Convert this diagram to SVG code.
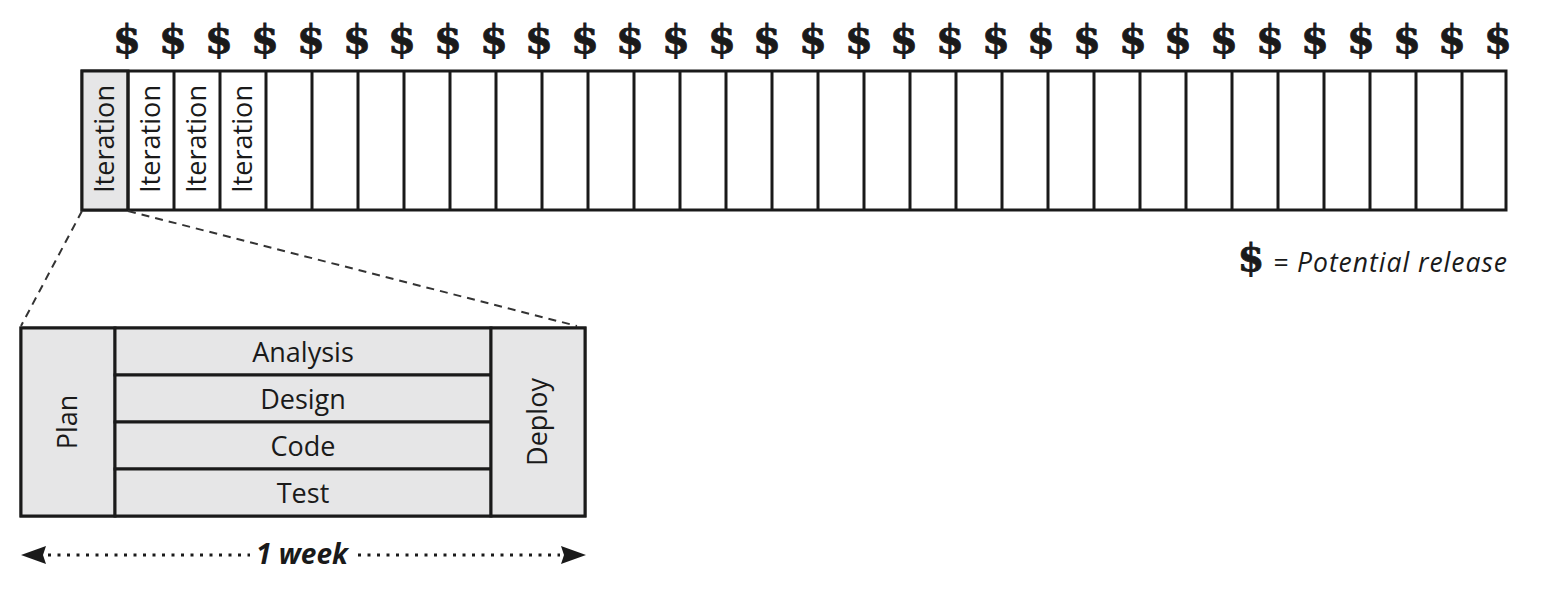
<svg xmlns="http://www.w3.org/2000/svg" width="1559" height="615" viewBox="0 0 1559 615">
<style>
.cell{fill:#ffffff;stroke:#1a1a1a;stroke-width:3}
.gray{fill:#e6e6e7;stroke:#1a1a1a;stroke-width:3}
.lbl{font-family:"Open Sans","Noto Sans",sans-serif;font-size:27px;fill:#1a1a1a;text-anchor:middle}
.itl{font-family:"Open Sans","Noto Sans",sans-serif;font-size:27px;fill:#1a1a1a;text-anchor:middle}
.dollar{font-family:"DejaVu Serif","Liberation Serif",serif;font-weight:bold;font-size:40px;fill:#1a1a1a;stroke:#1a1a1a;stroke-width:0.8;text-anchor:middle}
.dash{stroke:#333;stroke-width:2;stroke-dasharray:8,6;fill:none}
.dot{stroke:#1a1a1a;stroke-width:3;stroke-dasharray:3,6.5;fill:none}
</style>
<defs>
<marker id="ah" viewBox="0 0 25 18" refX="25" refY="9" markerWidth="25" markerHeight="18" markerUnits="userSpaceOnUse" orient="auto-start-reverse">
<path d="M0,0 L25,9 L0,18 L3,9 Z" fill="#1a1a1a"/>
</marker>
</defs>
<rect x="0" y="0" width="1559" height="615" fill="#ffffff"/>
<g id="timeline">
<rect class="cell" x="82" y="71" width="1424" height="139"/>
<rect class="gray" x="82" y="71" width="46" height="139"/>
<path stroke="#1a1a1a" stroke-width="3" d="M128,71V210M174,71V210M220,71V210M266,71V210M312,71V210M358,71V210M404,71V210M450,71V210M496,71V210M542,71V210M588,71V210M634,71V210M680,71V210M726,71V210M772,71V210M818,71V210M864,71V210M910,71V210M956,71V210M1002,71V210M1048,71V210M1094,71V210M1140,71V210M1186,71V210M1232,71V210M1278,71V210M1324,71V210M1370,71V210M1416,71V210M1462,71V210"/>
<text class="itl" transform="translate(114,139) rotate(-90)" textLength="108" lengthAdjust="spacingAndGlyphs">Iteration</text>
<text class="itl" transform="translate(160,139) rotate(-90)" textLength="108" lengthAdjust="spacingAndGlyphs">Iteration</text>
<text class="itl" transform="translate(206,139) rotate(-90)" textLength="108" lengthAdjust="spacingAndGlyphs">Iteration</text>
<text class="itl" transform="translate(252,139) rotate(-90)" textLength="108" lengthAdjust="spacingAndGlyphs">Iteration</text>
</g>
<g id="releases">
<text class="dollar" x="127" y="53">$</text>
<text class="dollar" x="173" y="53">$</text>
<text class="dollar" x="219" y="53">$</text>
<text class="dollar" x="265" y="53">$</text>
<text class="dollar" x="311" y="53">$</text>
<text class="dollar" x="357" y="53">$</text>
<text class="dollar" x="402" y="53">$</text>
<text class="dollar" x="448" y="53">$</text>
<text class="dollar" x="494" y="53">$</text>
<text class="dollar" x="539" y="53">$</text>
<text class="dollar" x="585" y="53">$</text>
<text class="dollar" x="630" y="53">$</text>
<text class="dollar" x="676" y="53">$</text>
<text class="dollar" x="722" y="53">$</text>
<text class="dollar" x="767" y="53">$</text>
<text class="dollar" x="813" y="53">$</text>
<text class="dollar" x="859" y="53">$</text>
<text class="dollar" x="904" y="53">$</text>
<text class="dollar" x="950" y="53">$</text>
<text class="dollar" x="996" y="53">$</text>
<text class="dollar" x="1041" y="53">$</text>
<text class="dollar" x="1087" y="53">$</text>
<text class="dollar" x="1133" y="53">$</text>
<text class="dollar" x="1178" y="53">$</text>
<text class="dollar" x="1224" y="53">$</text>
<text class="dollar" x="1270" y="53">$</text>
<text class="dollar" x="1315" y="53">$</text>
<text class="dollar" x="1361" y="53">$</text>
<text class="dollar" x="1407" y="53">$</text>
<text class="dollar" x="1452" y="53">$</text>
<text class="dollar" x="1498" y="53">$</text>
</g>
<g id="legend">
<text class="dollar" x="1251" y="271" style="font-size:38px">$</text>
<text x="1273" y="272" textLength="234" lengthAdjust="spacing" style="font-family:'Open Sans','Noto Sans',sans-serif;font-style:italic;font-size:26.5px;fill:#1a1a1a">= Potential release</text>
</g>
<g id="connectors">
<line class="dash" x1="82" y1="211" x2="21" y2="326"/>
<line class="dash" x1="128" y1="211" x2="577" y2="326"/>
<line class="dot" x1="48" y1="555" x2="250" y2="555"/>
<line class="dot" x1="358" y1="555" x2="560" y2="555"/>
<path d="M47,555 L21,555" stroke="none" fill="none" marker-end="url(#ah)"/>
<path d="M560,555 L586,555" stroke="none" fill="none" marker-end="url(#ah)"/>
</g>
<g id="iteration-detail">
<rect class="gray" x="21" y="328" width="564" height="188"/>
<g id="plan">
<rect class="gray" x="21" y="328" width="94" height="188"/>
<text class="lbl" transform="translate(77,422) rotate(-90)">Plan</text>
</g>
<g id="analysis">
<rect class="gray" x="115" y="328" width="376" height="47"/>
<text class="lbl" x="303" y="362">Analysis</text>
</g>
<g id="design">
<rect class="gray" x="115" y="375" width="376" height="47"/>
<text class="lbl" x="303" y="409">Design</text>
</g>
<g id="code">
<rect class="gray" x="115" y="422" width="376" height="47"/>
<text class="lbl" x="303" y="456">Code</text>
</g>
<g id="test">
<rect class="gray" x="115" y="469" width="376" height="47"/>
<text class="lbl" x="303" y="503">Test</text>
</g>
<g id="deploy">
<rect class="gray" x="491" y="328" width="94" height="188"/>
<text class="lbl" transform="translate(547,422) rotate(-90)">Deploy</text>
</g>
</g>
<g id="duration">
<text x="302" y="564" style="font-family:'Open Sans','Noto Sans',sans-serif;font-style:italic;font-weight:bold;font-size:28px;fill:#1a1a1a;text-anchor:middle">1 week</text>
</g>
</svg>
